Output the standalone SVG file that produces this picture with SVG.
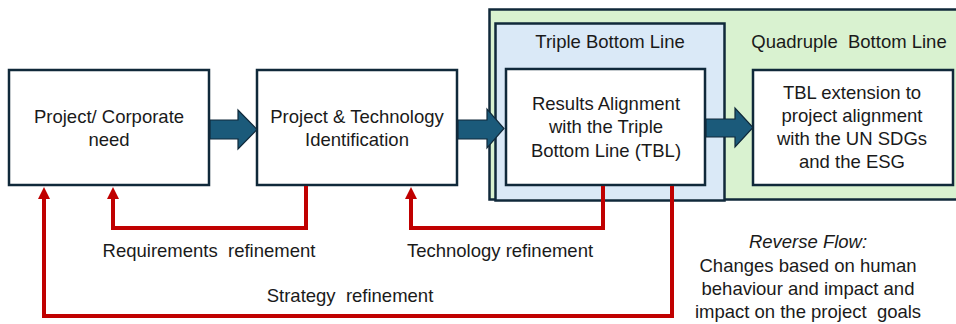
<svg xmlns="http://www.w3.org/2000/svg" width="956" height="324" viewBox="0 0 956 324">
  <defs>
    <style>
      .box { fill: #ffffff; stroke: #10293a; stroke-width: 2.5; }
      .t { font-family: "Liberation Sans", Arial, sans-serif; font-size: 18.5px; fill: #1a1a1a; text-anchor: middle; white-space: pre; }
      .flow { fill: #1b5a7a; stroke: #10293a; stroke-width: 1.2; }
      .back { fill: none; stroke: #c00000; stroke-width: 4; }
      .head { fill: #c00000; }
    </style>
  </defs>

  <!-- framework panels -->
  <g id="quadruple-panel">
    <rect x="489.5" y="9.5" width="470" height="190" fill="#d9f2d0" stroke="#10293a" stroke-width="2.5"/>
    <text class="t" x="849" y="48">Quadruple  Bottom Line</text>
  </g>
  <g id="triple-panel">
    <rect x="495.5" y="23.5" width="229" height="177" fill="#dae9f7" stroke="#10293a" stroke-width="2.5"/>
    <text class="t" x="610" y="48">Triple Bottom Line</text>
  </g>

  <!-- process nodes -->
  <g id="node-need">
    <rect class="box" x="9" y="70" width="200" height="115"/>
    <text class="t" x="109" y="123">Project/ Corporate</text>
    <text class="t" x="109" y="146">need</text>
  </g>
  <g id="node-identification">
    <rect class="box" x="257" y="70" width="200" height="115"/>
    <text class="t" x="357" y="123">Project &amp; Technology</text>
    <text class="t" x="357" y="146">Identification</text>
  </g>
  <g id="node-tbl">
    <rect class="box" x="506" y="69" width="199" height="116"/>
    <text class="t" x="606" y="110">Results Alignment</text>
    <text class="t" x="606" y="133">with the Triple</text>
    <text class="t" x="606" y="157">Bottom Line (TBL)</text>
  </g>
  <g id="node-qbl">
    <rect class="box" x="753" y="70" width="200" height="115"/>
    <text class="t" x="852" y="99">TBL extension to</text>
    <text class="t" x="852" y="122">project alignment</text>
    <text class="t" x="852" y="145">with the UN SDGs</text>
    <text class="t" x="852" y="168">and the ESG</text>
  </g>

  <!-- connectors -->
  <g id="connectors">
    <!-- forward block arrows -->
    <path class="flow" d="M210,120 H238 V110 L257,129.5 L238,149 V139 H210 Z"/>
    <path class="flow" d="M458,120 H487 V109 L504,128.5 L487,148 V139 H458 Z"/>
    <path class="flow" d="M706,119 H735 V108 L753,127.5 L735,147 V137 H706 Z"/>

    <!-- feedback loops -->
    <path class="back" d="M306,186 V228 H113 V197"/>
    <path class="head" d="M113,187 L119,199 H107 Z"/>
    <path class="back" d="M603,186 V228 H411 V197"/>
    <path class="head" d="M411,187 L417,199 H405 Z"/>
    <path class="back" d="M672,186 V316 H44 V197"/>
    <path class="head" d="M44,187 L50,199 H38 Z"/>

    <text class="t" x="209" y="257">Requirements  refinement</text>
    <text class="t" x="500" y="257">Technology refinement</text>
    <text class="t" x="350" y="302">Strategy  refinement</text>
  </g>

  <!-- note -->
  <g id="note">
    <text class="t" x="808" y="248" font-style="italic">Reverse Flow:</text>
    <text class="t" x="808" y="272">Changes based on human</text>
    <text class="t" x="808" y="295">behaviour and impact and</text>
    <text class="t" x="808" y="318">impact on the project  goals</text>
  </g>
</svg>
